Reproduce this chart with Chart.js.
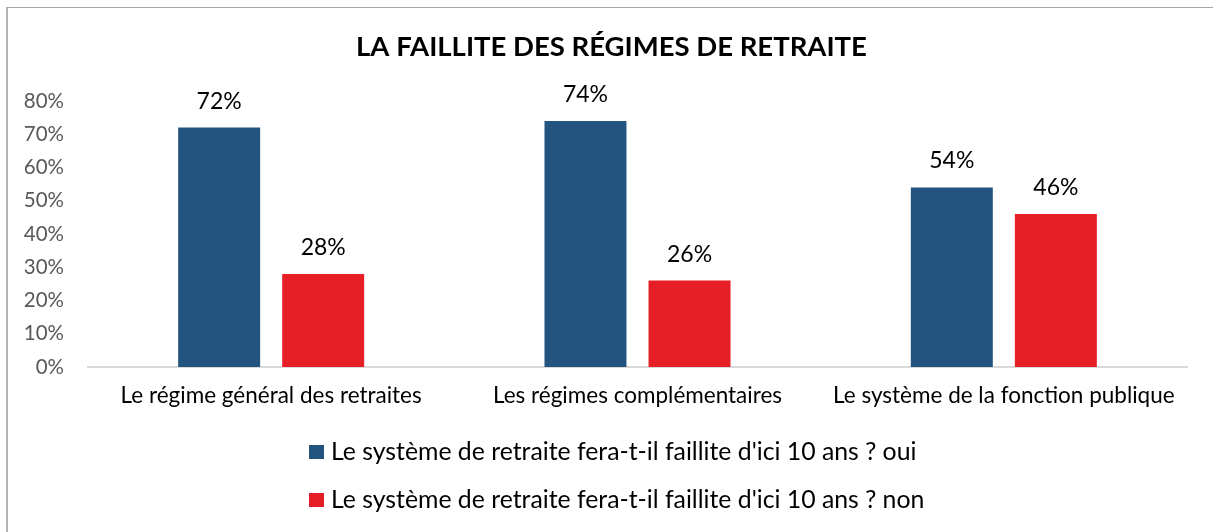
<!DOCTYPE html>
<html>
<head>
<meta charset="utf-8">
<script src="https://cdn.jsdelivr.net/npm/chart.js@4.4.1/dist/chart.umd.min.js"></script>
<style>
    body { margin: 0; background: #fff; }
    #frame {
        position: absolute; left: 6px; top: 7px; width: 1207px; height: 525px;
        border-top: 1px solid #a6a6a6; border-left: 2px solid #b3b3b3;
    }
    canvas { position: absolute; left: 0; top: 0; }
</style>
</head>
<body>
<div id="frame"></div>
<canvas id="chart" width="1213" height="532"></canvas>
<script>
// ─── Data ───
const categories = [
    'Le régime général des retraites',
    'Les régimes complémentaires',
    'Le système de la fonction publique'
];
const seriesNames = [
    "Le système de retraite fera-t-il faillite d'ici 10 ans ? oui",
    "Le système de retraite fera-t-il faillite d'ici 10 ans ? non"
];
const ouiValues = [72, 74, 54];
const nonValues = [28, 26, 46];
const yTickLabels = ['0%', '10%', '20%', '30%', '40%', '50%', '60%', '70%', '80%'];

const C = { oui: '#23537f', non: '#e61f26', tick: '#595959', axis: '#d9d9d9' };
const FONT = 'Lato, "Liberation Sans", sans-serif';

Chart.defaults.font.family = FONT;

// ─── Value labels above bars ───
const valueLabels = {
    id: 'valueLabels',
    afterDatasetsDraw(chart) {
        const ctx = chart.ctx;
        ctx.save();
        ctx.font = '23px ' + FONT;
        ctx.fillStyle = '#000';
        ctx.textAlign = 'center';
        ctx.textBaseline = 'alphabetic';
        chart.data.datasets.forEach((ds, i) => {
            chart.getDatasetMeta(i).data.forEach((bar, j) => {
                ctx.fillText(ds.data[j] + '%', bar.x, bar.y - 19);
            });
        });
        ctx.restore();
    }
};

// ─── Stacked legend (one row per series) ───
const stackedLegend = {
    id: 'stackedLegend',
    afterDraw(chart) {
        const ctx = chart.ctx;
        const left = 309, firstRow = 452, rowGap = 48;
        ctx.save();
        ctx.font = '24.8px ' + FONT;
        ctx.textBaseline = 'middle';
        ctx.textAlign = 'left';
        chart.data.datasets.forEach((ds, i) => {
            const y = firstRow + i * rowGap;
            ctx.fillStyle = ds.backgroundColor;
            ctx.fillRect(left, y - 7, 15, 14);
            ctx.fillStyle = '#000';
            ctx.fillText(ds.label, left + 22, y);
        });
        ctx.restore();
    }
};

// The original title is centred a bit right of the layout box: nudge it
const titleShift = {
    id: 'titleShift',
    afterLayout(chart) {
        if (chart.titleBlock) chart.titleBlock.left += 36;
    }
};

new Chart(document.getElementById('chart'), {
    type: 'bar',
    data: {
        labels: categories,
        datasets: [
            { label: seriesNames[0], data: ouiValues, backgroundColor: C.oui },
            { label: seriesNames[1], data: nonValues, backgroundColor: C.non }
        ]
    },
    options: {
        responsive: false,
        animation: false,
        layout: { padding: { top: 0, left: 0, right: 26, bottom: 115 } },
        datasets: { bar: { categoryPercentage: 0.568, barPercentage: 0.788 } },
        scales: {
            x: {
                grid: { display: false, drawTicks: false },
                border: { display: true, color: C.axis, width: 2 },
                ticks: { color: '#000', font: { size: 22.5 }, padding: 15, maxRotation: 0 },
                afterFit: s => { s.height = 50; }
            },
            y: {
                min: 0,
                max: 80,
                grid: { display: false, drawTicks: false },
                border: { display: false },
                ticks: {
                    stepSize: 10,
                    color: C.tick,
                    font: { size: 20.5 },
                    padding: 24,
                    callback: (v, i) => yTickLabels[i]
                },
                afterFit: s => { s.width = 88; }
            }
        },
        plugins: {
            legend: { display: false },
            tooltip: { enabled: false },
            title: {
                display: true,
                text: 'LA FAILLITE DES RÉGIMES DE RETRAITE',
                color: '#000',
                font: { size: 27.5, weight: 'bold' },
                padding: { top: 31, bottom: 37 }
            }
        }
    },
    plugins: [valueLabels, stackedLegend, titleShift]
});
</script>
</body>
</html>
